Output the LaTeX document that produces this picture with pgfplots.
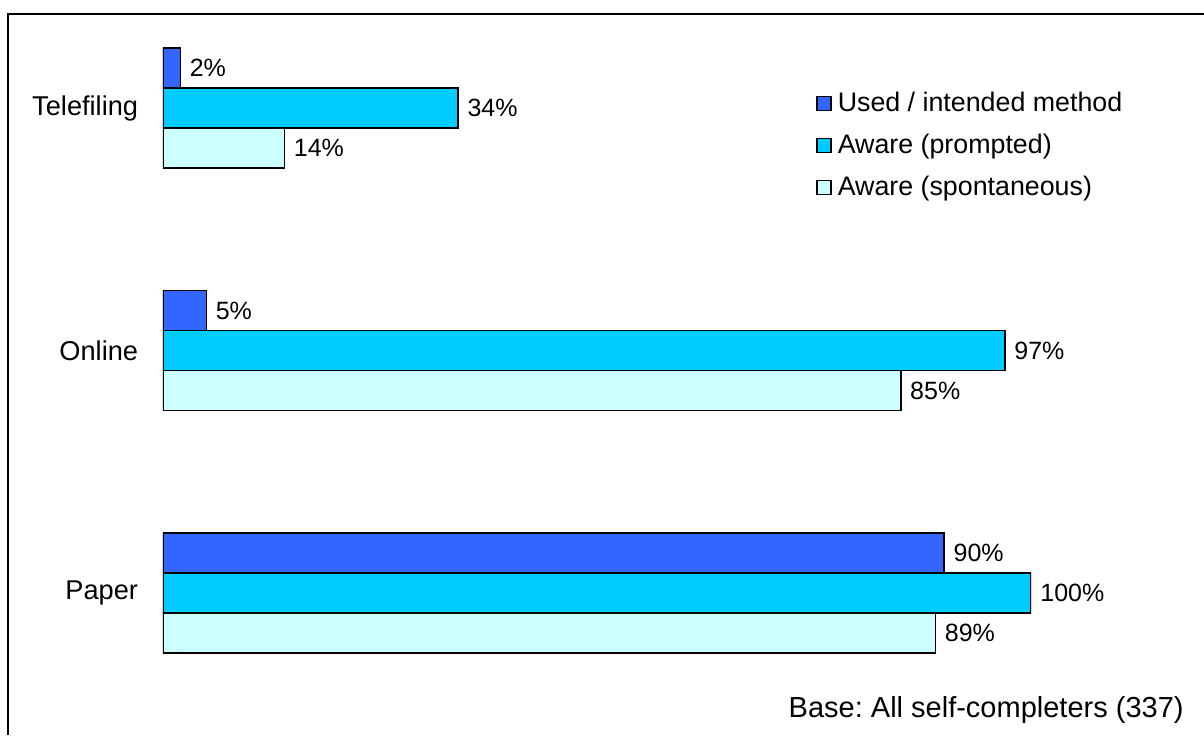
\documentclass[border=0pt]{standalone}
\usepackage{pgfplots}
\pgfplotsset{compat=1.18}
\usepackage{fontspec}
\setmainfont{Liberation Sans}
\frenchspacing
\definecolor{cUsed}{HTML}{3366FF}
\definecolor{cProm}{HTML}{00CCFF}
\definecolor{cSpon}{HTML}{CCFFFF}
\begin{document}
\begin{tikzpicture}
\useasboundingbox (0pt,0pt) rectangle (602pt,367.5pt);
\draw[line width=1pt] (4pt,0pt) -- (4pt,360.5pt) -- (602pt,360.5pt);
\begin{axis}[
  at={(81.5pt,10.375pt)}, anchor=south west,
  scale only axis, width=434pt, height=363.75pt,
  xmin=0, xmax=100, ymin=-0.5, ymax=2.5,
  xbar, bar width=20pt,
  /pgf/number format/assume math mode=true,
  axis line style={draw=none}, tick style={draw=none},
  xtick=\empty, ytick={0,1,2}, yticklabels={Paper,Online,Telefiling},
  yticklabel style={font=\fontsize{13.6}{15}\selectfont, inner sep=0pt, xshift=-8pt},
  nodes near coords={\pgfmathprintnumber{\pgfplotspointmeta}\%},
  every node near coord/.append style={font=\fontsize{12.5}{14}\selectfont, anchor=west, xshift=1pt, text=black},
  legend style={draw=none, fill=none, at={(0.7523,0.8609)}, anchor=north west,
    font=\fontsize{13.4}{15}\selectfont, row sep=5.8pt, inner sep=0pt},
  legend cell align=left,
  legend image code/.code={\draw[#1, line width=0.6pt] (0pt,-3.5pt) rectangle (7pt,3.5pt); \path (8pt,0pt);},
]
\addplot[fill=cUsed, draw=black, line width=0.75pt, bar shift=20pt] coordinates {(90,0) (5,1) (2,2)};
\addplot[fill=cProm, draw=black, line width=0.75pt, bar shift=0pt] coordinates {(100,0) (97,1) (34,2)};
\addplot[fill=cSpon, draw=black, line width=0.75pt, bar shift=-20pt] coordinates {(89,0) (85,1) (14,2)};
\legend{Used / intended method, Aware (prompted), Aware (spontaneous)}
\end{axis}
\node[anchor=base east, font=\fontsize{14.5}{16}\selectfont, inner sep=0pt] at (592pt,9pt) {Base: All self-completers (337)};
\end{tikzpicture}
\end{document}
